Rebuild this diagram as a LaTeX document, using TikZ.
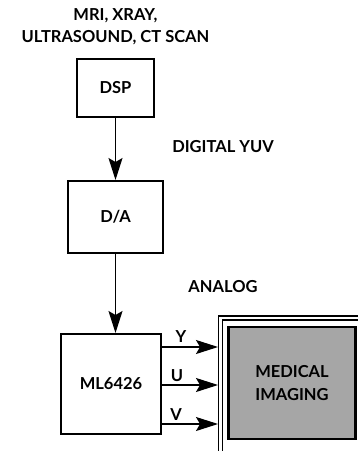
\documentclass[tikz,border=0pt]{standalone}
\usepackage{fontspec}
\setmainfont{Lato}
\usetikzlibrary{arrows.meta}
\begin{document}
\begin{tikzpicture}[x=1pt,y=-1pt,
  lbl/.style={font=\bfseries\fontsize{16.5}{18}\selectfont, inner sep=0pt},
  blk/.style={draw, line width=2pt, inner sep=0pt, font=\bfseries\fontsize{16.5}{18}\selectfont},
  conn/.style={line width=1.2pt, -{Stealth[length=22pt,width=14pt,inset=4pt]}}]
\useasboundingbox (0,0) rectangle (358,451);
\node[lbl] (src1) at (115.5,16) {MRI, XRAY,};
\node[lbl] (src2) at (115.5,37.5) {ULTRASOUND, CT SCAN};
\node[blk, minimum width=77pt, minimum height=58pt] (dsp) at (115.5,88) {DSP};
\node[blk, minimum width=95pt, minimum height=72pt] (da) at (115.5,217) {D/A};
\node[blk, minimum width=100pt, minimum height=100pt] (ml) at (111,384) {ML6426};
\node[lbl] (dyuv) at (223,147) {DIGITAL YUV};
\node[lbl] (ana) at (223,287) {ANALOG};
% display frame
\draw[line width=1.5pt] (218.5,451) -- (218.5,316) -- (358,316);
\draw[line width=1.2pt] (222.5,451) -- (222.5,320) -- (358,320);
\coordinate (yin) at (218,347);
\coordinate (uin) at (218,385);
\coordinate (vin) at (218,424);
\node[draw, line width=2.2pt, fill=black!35, minimum width=127pt, minimum height=112pt,
  align=center, font=\bfseries\fontsize{16.5}{23}\selectfont] (med) at (292,383) {MEDICAL\\IMAGING};
\draw[conn] (dsp.south) -- (da.north);
\draw[conn] (da.south) -- (da.south |- ml.north);
\draw[conn] (ml.east |- yin) -- (yin);
\draw[conn] (ml.east |- uin) -- (uin);
\draw[conn] (ml.east |- vin) -- (vin);
\node[lbl] (ly) at (181,337) {Y};
\node[lbl] (lu) at (177,376) {U};
\node[lbl] (lv) at (176,415) {V};
\end{tikzpicture}
\end{document}
